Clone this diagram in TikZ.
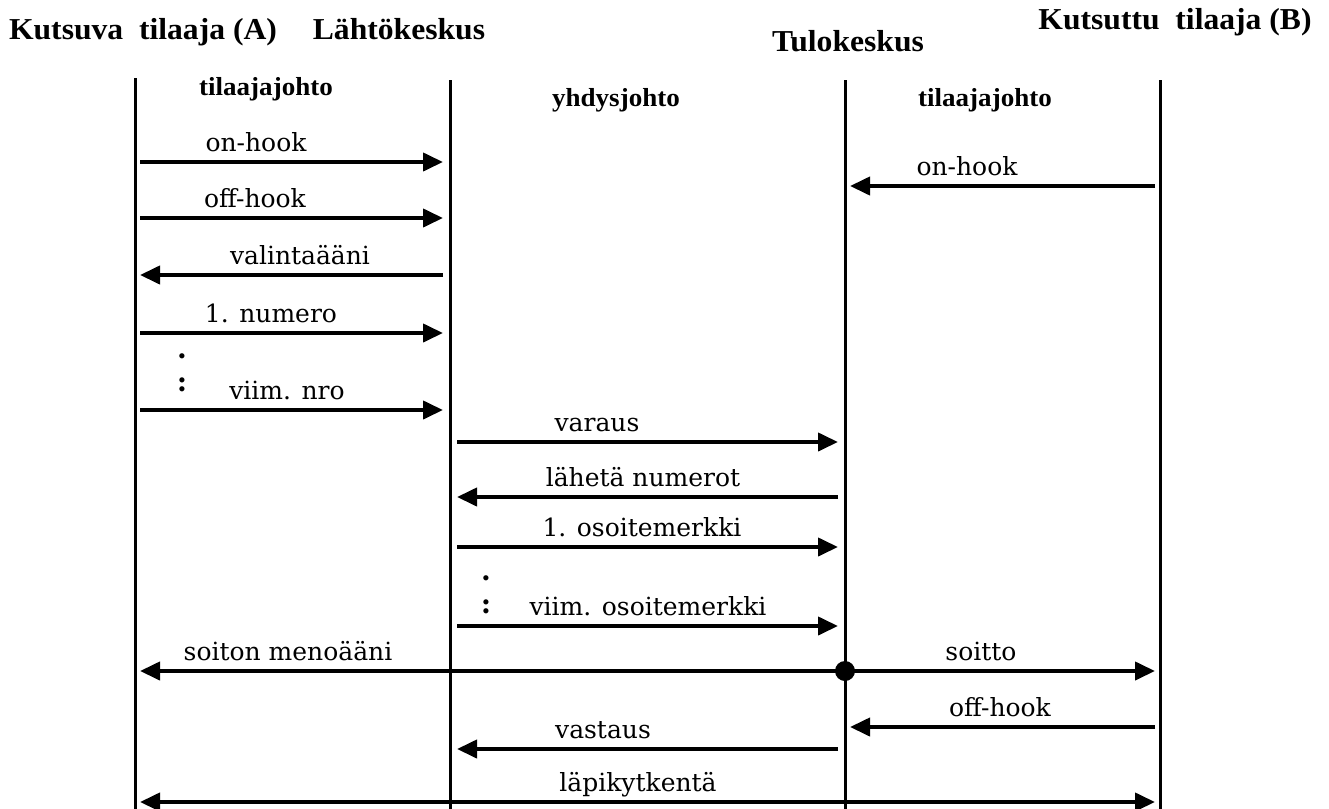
\documentclass[tikz,border=0pt]{standalone}
\usepackage{fontspec}
\setmainfont{DejaVu Serif}
\newfontfamily\headfont{Liberation Serif}[FakeStretch=1.04]
\usetikzlibrary{arrows.meta}

\begin{document}
\begin{tikzpicture}[declare function={xa=135; xl=450; xt=845; xb=1160;},x=0.5pt,y=-0.5pt,line join=round,
	life/.style={line width=1.5pt},
	msg/.style={line width=2pt,-{Triangle[length=10pt,width=9pt]}},
	lbl/.style={anchor=base,font=\fontsize{12.5}{14}\selectfont},
	dots/.style={anchor=base,font=\fontsize{14}{16}\selectfont\bfseries},
	head/.style={anchor=base,font=\fontsize{15.2}{18}\selectfont\headfont\bfseries},
	subhead/.style={anchor=base,font=\fontsize{13}{15}\selectfont\headfont\bfseries}]
	\useasboundingbox (0,0) rectangle (1329,809);
	% otsikot
	\node[head] (kA) at (143,39) {Kutsuva\ \ tilaaja (A)};
	\node[head] (lk) at (399,39) {Lähtökeskus};
	\node[head] (tk) at (848,51) {Tulokeskus};
	\node[head] (kB) at (1175,29) {Kutsuttu\ \ tilaaja (B)};
	\node[subhead] (tjA) at (266,95) {tilaajajohto};
	\node[subhead] (yj) at (616,106) {yhdysjohto};
	\node[subhead] (tjB) at (985,106) {tilaajajohto};
	% aikajanat
	\path
	(xa,78) coordinate (A0)--(xa,809) coordinate (A1)
	(xl,80) coordinate (L0)--(xl,809) coordinate (L1)
	(xt,80) coordinate (T0)--(xt,809) coordinate (T1)
	(xb,80) coordinate (B0)--(xb,809) coordinate (B1);
	\draw[life] (A0)--(A1) (L0)--(L1) (T0)--(T1) (B0)--(B1);
	% sanomat
	\foreach \y/\s/\e/\lx/\t in {162/xa+5/xl-7/256/on-hook,218/xa+5/xl-7/255/off-hook,
		275/xl-7/xa+5/300/valintaääni,333/xa+5/xl-7/271/1. numero,410/xa+5/xl-7/287/viim. nro,
		186/xb-5/xt+5/967/on-hook,442/xl+7/xt-7/597/varaus,497/xt-7/xl+7/643/lähetä numerot,
		547/xl+7/xt-7/642/1. osoitemerkki,626/xl+7/xt-7/648/viim. osoitemerkki,
		727/xb-5/xt+5/1000/off-hook,749/xt-7/xl+7/603/vastaus}
	{
		\path (\s,\y) coordinate (s) (\e,\y) coordinate (e);
		\draw[msg] (s)--(e);
		\node[lbl] at (\lx,\y-11) {\t};
	}
	\foreach \x/\y in {182/367,486/589}
	{
		\node[dots] at (\x,\y-9) {.};
		\node[dots] at (\x,\y+24) {:};
	}
	% soitto ja läpikytkentä
	\path (xt,671) coordinate (D) (xa+5,671) coordinate (sA) (xb-5,671) coordinate (sB)
	(xa+5,802) coordinate (pA) (xb-5,802) coordinate (pB);
	\draw[msg] (D)--(sA);
	\draw[msg] (D)--(sB);
	\fill (D) circle (10);
	\node[lbl] at (288,660) {soiton menoääni};
	\node[lbl] at (981,660) {soitto};
	\draw[msg,{Triangle[length=10pt,width=9pt]}-{Triangle[length=10pt,width=9pt]}] (pA)--(pB);
	\node[lbl] at (638,791) {läpikytkentä};
\end{tikzpicture}
\end{document}
